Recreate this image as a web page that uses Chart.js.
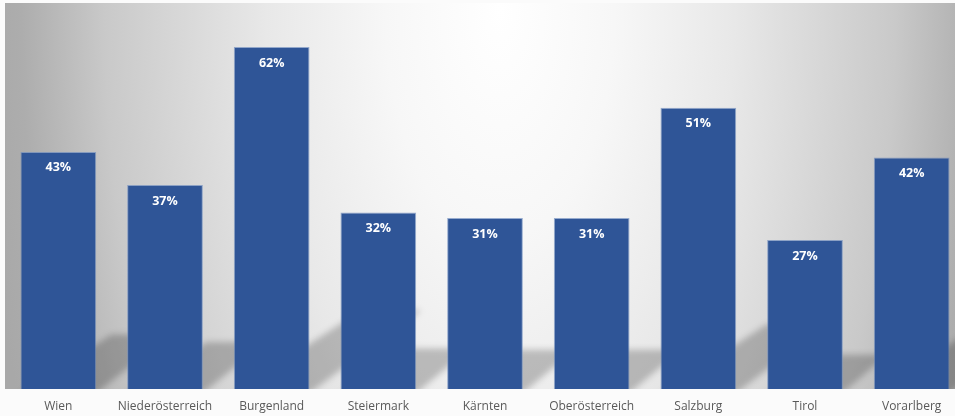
<!DOCTYPE html>
<html>
<head>
<meta charset="utf-8">
<script src="https://cdn.jsdelivr.net/npm/chart.js@4.4.1/dist/chart.umd.min.js"></script>
<style>
  html, body { margin: 0; padding: 0; background: #fbfbfb; overflow: hidden; width: 955px; height: 416px; }
  canvas { display: block; }
</style>
</head>
<body>
<canvas id="c" width="970" height="416"></canvas>
<script>
const categories = ["Wien", "Niederösterreich", "Burgenland", "Steiermark", "Kärnten", "Oberösterreich", "Salzburg", "Tirol", "Vorarlberg"];
const values = [43, 37, 62, 32, 31, 31, 51, 27, 42];
const valueLabels = ["43%", "37%", "62%", "32%", "31%", "31%", "51%", "27%", "42%"];

const bgPlugin = {
  id: 'bg',
  beforeDraw(chart) {
    const {ctx, chartArea: a} = chart;
    ctx.save();
    ctx.beginPath();
    ctx.rect(a.left, a.top, a.right - a.left, a.bottom - a.top);
    ctx.clip();
    ctx.translate(500, 10);
    ctx.scale(1, 1 / 0.5);
    const R = 520;
    const g = ctx.createRadialGradient(0, 0, 0, 0, 0, R);
    g.addColorStop(0, '#ffffff');
    g.addColorStop(0.22, '#f7f7f7');
    g.addColorStop(0.45, '#e8e8e8');
    g.addColorStop(0.76, '#c9c9c9');
    g.addColorStop(0.92, '#adadad');
    g.addColorStop(1, '#a8a8a8');
    ctx.fillStyle = g;
    ctx.fillRect(-600, -100, 1400, 1000);
    ctx.restore();
  }
};

const shadowPlugin = {
  id: 'shadows',
  beforeDatasetsDraw(chart) {
    const {ctx, chartArea: a} = chart;
    const meta = chart.getDatasetMeta(0);
    ctx.save();
    ctx.beginPath();
    ctx.rect(a.left, a.top, a.right - a.left, a.bottom - a.top);
    ctx.clip();
    ctx.filter = 'blur(3px)';
    ctx.fillStyle = 'rgba(0,0,0,0.22)';
    meta.data.forEach(el => {
      const p = el.getProps(['x', 'y', 'width', 'base'], true);
      const h = p.base - p.y;
      const x0 = p.x - p.width / 2, x1 = p.x + p.width / 2;
      const dx = h * 0.35, dy = h * 0.23;
      ctx.beginPath();
      ctx.moveTo(x0, p.base + 4);
      ctx.lineTo(x1, p.base + 4);
      ctx.lineTo(x1 + dx - 8, p.base - dy);
      ctx.lineTo(x0 + dx + 8, p.base - dy);
      ctx.closePath();
      ctx.fill();
    });
    ctx.restore();
  }
};

const labelPlugin = {
  id: 'vlabels',
  afterDatasetsDraw(chart) {
    const {ctx} = chart;
    const meta = chart.getDatasetMeta(0);
    ctx.save();
    ctx.fillStyle = '#ffffff';
    ctx.font = 'bold 12.5px "Open Sans", sans-serif';
    ctx.textAlign = 'center';
    ctx.textBaseline = 'middle';
    meta.data.forEach((el, i) => {
      const p = el.getProps(['x', 'y'], true);
      ctx.fillText(valueLabels[i], p.x, p.y + 16);
    });
    ctx.restore();
  }
};

new Chart(document.getElementById('c'), {
  type: 'bar',
  data: {
    labels: categories,
    datasets: [{
      data: values,
      backgroundColor: '#2f5597',
      borderColor: 'rgba(110,140,190,0.7)',
      borderWidth: 1,
      categoryPercentage: 1,
      barPercentage: 0.71
    }]
  },
  options: {
    responsive: false,
    animation: false,
    devicePixelRatio: 1,
    layout: { padding: { left: 5, right: 5, top: 3, bottom: 0 } },
    plugins: { legend: { display: false }, tooltip: { enabled: false } },
    scales: {
      x: {
        grid: { display: false, drawTicks: false },
        border: { display: false },
        ticks: {
          color: '#595959',
          font: { family: '"Open Sans", sans-serif', size: 12 },
          padding: 10,
          maxRotation: 0,
          autoSkip: false
        },
        afterFit(scale) { scale.height = 27; }
      },
      y: {
        display: false,
        min: 0,
        max: 70
      }
    }
  },
  plugins: [bgPlugin, shadowPlugin, labelPlugin]
});
</script>
</body>
</html>
